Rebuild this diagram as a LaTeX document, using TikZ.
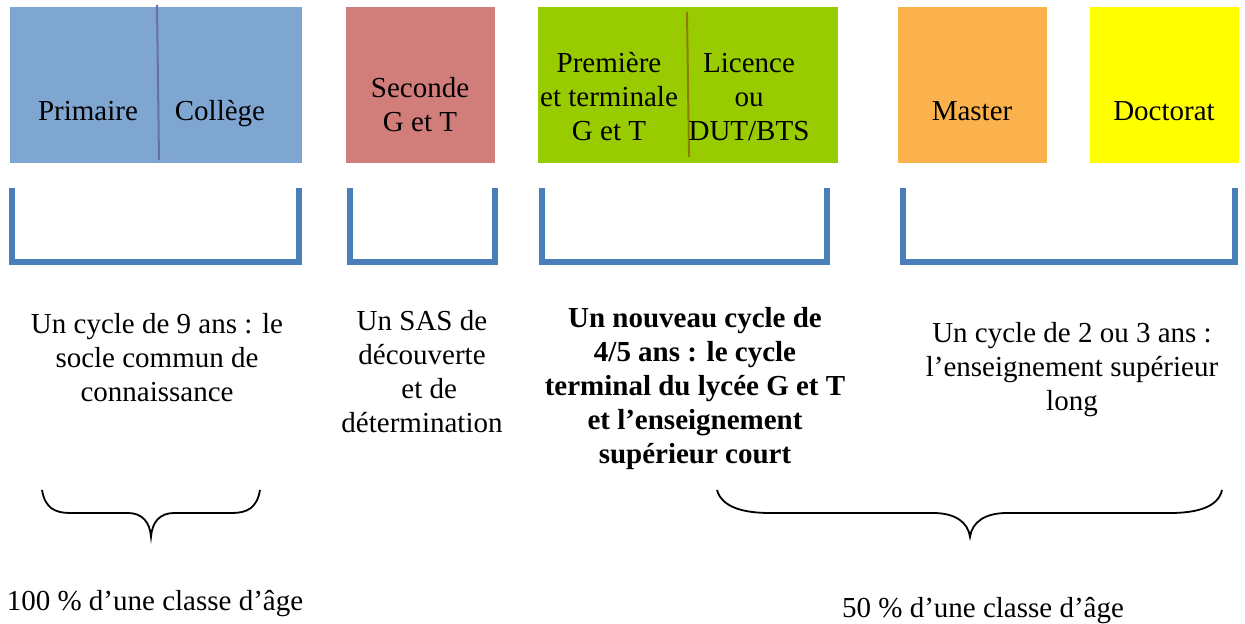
\documentclass[tikz,border=0pt]{standalone}
\usepackage{fontspec}
\setmainfont{Liberation Serif}
\usetikzlibrary{positioning}

\definecolor{boxblue}{RGB}{127,166,208}
\definecolor{boxred}{RGB}{209,125,122}
\definecolor{boxgreen}{RGB}{153,204,0}
\definecolor{boxorange}{RGB}{252,178,76}
\definecolor{boxyellow}{RGB}{255,255,0}
\definecolor{bracketblue}{RGB}{74,126,187}
\definecolor{splitblue}{RGB}{105,110,168}
\definecolor{splitgreen}{RGB}{140,125,0}

\begin{document}
\begin{tikzpicture}[x=0.5pt,y=-0.5pt,font=\fontsize{14.5}{17}\selectfont]
    \tikzstyle{cycle box}=[inner sep=0,minimum height=78pt,anchor=north west]
    \tikzstyle{box text}=[inner sep=0,align=center]
    \tikzstyle{bracket}=[draw=bracketblue,line width=2.6pt]
    \tikzstyle{brace}=[draw=black,line width=0.9pt]
    \tikzstyle{split}=[line width=1pt]

    \useasboundingbox (0,0) rectangle (1245,624);

    \node(blue)[cycle box,fill=boxblue,minimum width=146pt] at (10,7){};
    \node(red)[cycle box,fill=boxred,minimum width=74.5pt] at (346,7){};
    \node(green)[cycle box,fill=boxgreen,minimum width=150pt] at (538,7){};
    \node(orange)[cycle box,fill=boxorange,minimum width=74.5pt] at (898,7){};
    \node(yellow)[cycle box,fill=boxyellow,minimum width=74.5pt] at (1090,7){};

    \draw[split,draw=splitblue] (157,5) -- (159,160);
    \draw[split,draw=splitgreen] (687,12) -- (689,157);

    \node(prim)[box text,anchor=base] at (88,121){Primaire};
    \node(coll)[box text,anchor=base] at (220,121){Collège};
    \node(sec)[box text] at (420,105){Seconde\\G et T};
    \node(prem)[box text] at (609,97){Première\\et terminale\\G et T};
    \node(lic)[box text] at (749,97){Licence\\ou\\DUT/BTS};
    \node(mast)[box text,anchor=base] at (972,121){Master};
    \node(doct)[box text,anchor=base] at (1164,121){Doctorat};

    \draw[bracket] (12,188) |- (299,262) -- (299,188);
    \draw[bracket] (350,188) |- (495,262) -- (495,188);
    \draw[bracket] (542,188) |- (827,262) -- (827,188);
    \draw[bracket] (903,188) |- (1235,262) -- (1235,188);

    \node(socle)[box text] at (157,358){Un cycle de 9 ans : le\\socle commun de\\connaissance};
    \node(sas)[box text] at (422,372){Un SAS de\\découverte\\\ \ et de\\détermination};
    \node(lycee)[box text,font=\fontsize{14.5}{17}\selectfont\bfseries] at (695,389){Un nouveau cycle de\\4/5 ans : le cycle\\terminal du lycée G et T\\et l’enseignement\\supérieur court};
    \node(long)[box text] at (1072,370){Un cycle de 2 ou 3 ans :\\l’enseignement supérieur\\long};

    \draw[brace] (42,490) .. controls (45,508) and (55,513) .. (70,513) -- (128,513)
        .. controls (142,513) and (150,522) .. (151,537)
        .. controls (152,522) and (160,513) .. (174,513) -- (232,513)
        .. controls (247,513) and (257,508) .. (260,490);
    \draw[brace] (717,490) .. controls (722,508) and (745,513) .. (770,513) -- (933,513)
        .. controls (955,513) and (968,522) .. (970,537)
        .. controls (972,522) and (985,513) .. (1007,513) -- (1170,513)
        .. controls (1195,513) and (1218,508) .. (1222,490);

    \node(all)[box text] at (155,604){100 \% d’une classe d’âge};
    \node(half)[box text] at (983,611){50 \% d’une classe d’âge};
\end{tikzpicture}
\end{document}
